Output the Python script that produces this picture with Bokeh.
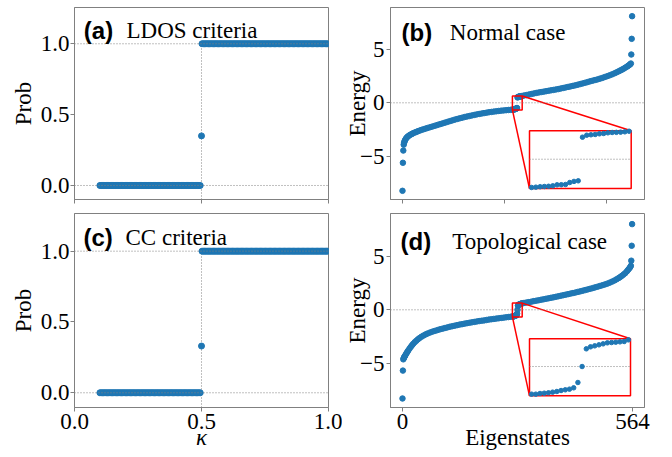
import numpy as np
from bokeh.plotting import figure
from bokeh.layouts import gridplot
from bokeh.models import Range1d, Span, Label
from bokeh.embed import file_html
from bokeh.resources import INLINE

C0 = "#1f77b4"

# ---------------- data: panels (a) and (c) ----------------
kappa_min, kappa_c, kappa_max, kappa_step = 0.10, 0.50, 1.00, 0.005
prob_levels_a = [0.0, 0.35, 1.0]   # below kappa_c, at kappa_c, above kappa_c
prob_levels_c = [0.0, 0.33, 1.0]

# ---------------- data: panels (b) and (d) ----------------
n_states = 564
eig_b_idx = [0, 1, 2, 3, 4, 5, 6, 8, 10, 12, 14, 17, 20, 23, 26, 30, 34, 38, 42, 47, 52, 57, 62,
             68, 74, 80, 86, 92, 98, 104, 110, 116, 122, 128, 134, 140, 146, 152, 158, 164, 170,
             176, 182, 188, 194, 200, 206, 212, 218, 224, 230, 236, 242, 248, 254, 260, 265,
             298, 304, 310, 316, 322, 328, 334, 340, 346, 352, 358, 364, 370, 376, 382, 388, 394,
             400, 406, 412, 418, 424, 430, 436, 442, 448, 454, 460, 466, 472, 478, 484, 490, 496,
             502, 508, 514, 520, 525, 530, 534, 538, 542, 546, 550, 553, 556, 558, 560, 561, 562, 563]
eig_b_val = [-8.20, -5.59, -4.45, -3.90, -3.72, -3.60, -3.50, -3.36, -3.26, -3.18, -3.11, -3.03,
             -2.96, -2.90, -2.84, -2.77, -2.71, -2.65, -2.59, -2.52, -2.46, -2.40, -2.34, -2.27,
             -2.20, -2.13, -2.06, -1.99, -1.92, -1.85, -1.78, -1.71, -1.64, -1.57, -1.51, -1.45,
             -1.39, -1.33, -1.28, -1.23, -1.18, -1.13, -1.08, -1.04, -1.00, -0.96, -0.92, -0.88,
             -0.85, -0.82, -0.79, -0.76, -0.73, -0.71, -0.69, -0.67, -0.655,
             0.68, 0.72, 0.77, 0.82, 0.87, 0.92, 0.96, 1.00, 1.04, 1.08, 1.12, 1.16, 1.20, 1.24,
             1.28, 1.33, 1.38, 1.43, 1.48, 1.53, 1.58, 1.63, 1.69, 1.75, 1.81, 1.87, 1.93, 2.00,
             2.06, 2.12, 2.18, 2.25, 2.32, 2.40, 2.48, 2.56, 2.65, 2.75, 2.84, 2.93, 3.01, 3.09,
             3.17, 3.27, 3.36, 3.44, 3.52, 3.58, 3.66, 4.50, 5.96, 8.07]
# zoomed region around the gap (b)
zoom_b_idx = list(range(270, 294))
zoom_b_val = [-0.637, -0.630, -0.620, -0.615, -0.610, -0.600, -0.577, -0.575, -0.570, -0.525,
              -0.500, -0.487,
              0.496, 0.541, 0.550, 0.557, 0.572, 0.580, 0.595, 0.602, 0.605, 0.610, 0.617, 0.630]

eig_d_idx = eig_b_idx
eig_d_val = [-8.27, -5.67, -4.62, -4.52, -4.44, -4.37, -4.30, -4.17, -4.04, -3.92, -3.80, -3.63,
             -3.47, -3.32, -3.18, -3.02, -2.88, -2.75, -2.63, -2.50, -2.39, -2.29, -2.20, -2.11,
             -2.03, -1.96, -1.89, -1.82, -1.76, -1.70, -1.64, -1.58, -1.53, -1.48, -1.43, -1.38,
             -1.34, -1.29, -1.25, -1.21, -1.17, -1.13, -1.09, -1.05, -1.02, -0.99, -0.95, -0.91,
             -0.88, -0.85, -0.82, -0.79, -0.76, -0.73, -0.70, -0.675, -0.650,
             0.64, 0.68, 0.72, 0.76, 0.81, 0.85, 0.89, 0.94, 0.98, 1.03, 1.07, 1.12, 1.16, 1.21,
             1.26, 1.31, 1.36, 1.41, 1.46, 1.51, 1.56, 1.61, 1.67, 1.72, 1.78, 1.84, 1.90, 1.96,
             2.02, 2.09, 2.15, 2.22, 2.29, 2.36, 2.44, 2.53, 2.63, 2.74, 2.85, 2.96, 3.06, 3.17,
             3.29, 3.42, 3.58, 3.72, 3.86, 3.96, 4.10, 4.58, 5.97, 7.99]
zoom_d_idx = list(range(270, 294))
zoom_d_val = [-0.623, -0.623, -0.608, -0.601, -0.593, -0.578, -0.563, -0.541, -0.525, -0.510,
              -0.480, -0.360, 0.000,
              0.399, 0.444, 0.466, 0.489, 0.511, 0.534, 0.541, 0.549, 0.556, 0.564, 0.601]

zoom_x_lim = (269.5, 293.5)
zoom_y_lim_b = (-0.66, 0.64)
zoom_y_lim_d = (-0.66, 0.625)

titles = [("(a)", "LDOS criteria"), ("(b)", "Normal case"),
          ("(c)", "CC criteria"), ("(d)", "Topological case")]
x_labels = ["\u03ba", "Eigenstates"]
y_labels = ["Prob", "Energy"]

# ---------------- layout (page pixels) ----------------
LEFT_F = (74, 328)
RIGHT_F = (390, 644)
ROW1_F = (7, 199)
ROW2_F = (213, 407)

XR_LEFT = (0.0, 1.0)
XR_RIGHT = (-29.4, 593.4)
YR_A = (-0.099, 1.256)
YR_B = (-9.01, 8.88)
YR_C = (-0.104, 1.266)
YR_D = (-9.11, 8.98)

GRAY = "#808080"
SERIF = "Liberation Serif"


def xd(rng, frame, px):
    return rng[0] + (px - frame[0]) / (frame[1] - frame[0]) * (rng[1] - rng[0])


def yd(rng, frame, py):
    return rng[1] - (py - frame[0]) / (frame[1] - frame[0]) * (rng[1] - rng[0])


def make_fig(w, h, xr, yr, bl, br, bt, bb):
    p = figure(width=w, height=h, x_range=Range1d(*xr), y_range=Range1d(*yr),
               output_backend="svg", toolbar_location=None,
               min_border_left=bl, min_border_right=br, min_border_top=bt, min_border_bottom=bb,
               background_fill_color="white", border_fill_color="white")
    p.outline_line_color = GRAY
    p.outline_line_width = 1
    p.xgrid.visible = False
    p.ygrid.visible = False
    for ax in (p.xaxis[0], p.yaxis[0]):
        ax.axis_line_color = GRAY
        ax.major_tick_line_color = GRAY
        ax.minor_tick_line_color = None
        ax.major_tick_in = 0
        ax.major_tick_out = 4
        ax.major_label_text_font = SERIF
        ax.major_label_text_font_size = "23px"
        ax.major_label_text_color = "black"
        ax.axis_label_text_font = SERIF
        ax.axis_label_text_font_size = "23px"
        ax.axis_label_text_font_style = "normal"
        ax.axis_label_text_color = "black"
    return p


def add_text(p, xr, yr, xf, yf, px, py, text, font=SERIF, size="23px", style="normal"):
    p.add_layout(Label(x=xd(xr, xf, px), y=yd(yr, yf, py), text=text,
                       text_font=font, text_font_style=style, text_font_size=size,
                       text_align="left", text_baseline="alphabetic", text_color="black"))


def add_titles(p, xr, yr, xf, yf, tag, name, tag_px, name_px, base_py):
    add_text(p, xr, yr, xf, yf, tag_px, base_py, tag, font="Liberation Sans", size="24px", style="bold")
    add_text(p, xr, yr, xf, yf, name_px, base_py, name)


def prob_panel(p, levels, yr):
    k_low = np.round(np.arange(kappa_min, kappa_c - 0.001, kappa_step), 4)
    k_high = np.round(np.arange(kappa_c + 0.002, kappa_max + 0.0001, kappa_step), 4)
    p.add_layout(Span(location=0, dimension="width", line_color=GRAY, line_dash="1 2", line_width=1))
    p.add_layout(Span(location=1, dimension="width", line_color=GRAY, line_dash="1 2", line_width=1))
    p.segment(x0=kappa_c, y0=yr[0], x1=kappa_c, y1=1.0, line_color=GRAY, line_dash="1 2", line_width=1)
    p.scatter(k_low, [levels[0]] * len(k_low), size=6, color=C0)
    p.scatter([kappa_c], [levels[1]], size=6, color=C0)
    p.scatter(k_high, [levels[2]] * len(k_high), size=6, color=C0)
    p.yaxis.ticker = [0, 0.5, 1]
    p.yaxis.major_label_overrides = {0: "0.0", 0.5: "0.5", 1: "1.0"}
    p.yaxis.axis_label = y_labels[0]
    p.yaxis.major_label_standoff = 1
    p.yaxis.axis_label_standoff = 2
    p.xaxis.ticker = [0, 0.5, 1]
    p.xaxis.major_label_overrides = {0: "0.0", 0.5: "0.5", 1: "1.0"}


def energy_panel(p, idx, vals, zidx, zvals, zylim, tgt_px, xr, yr, yf):
    p.add_layout(Span(location=0, dimension="width", line_color=GRAY, line_dash="1 2", line_width=1))
    p.scatter(idx + zidx, vals + zvals, size=5.5, color=C0)
    tx = (xd(xr, RIGHT_F, tgt_px[0]), xd(xr, RIGHT_F, tgt_px[1]))
    ty = (yd(yr, yf, tgt_px[3]), yd(yr, yf, tgt_px[2]))
    # small box around the gap
    p.quad(left=zoom_x_lim[0], right=zoom_x_lim[1], bottom=zylim[0], top=zylim[1],
           fill_color=None, line_color="red", line_width=1.5)
    # inset box
    p.quad(left=tx[0], right=tx[1], bottom=ty[0], top=ty[1],
           fill_color="white", line_color="red", line_width=1.5)
    p.segment(x0=[zoom_x_lim[0], zoom_x_lim[1]], y0=[zylim[0], zylim[1]],
              x1=[tx[0], tx[1]], y1=[ty[0], ty[1]], line_color="red", line_width=1.5)
    sub = p.subplot(x_source=Range1d(*zoom_x_lim), y_source=Range1d(*zylim),
                    x_target=Range1d(*tx), y_target=Range1d(*ty))
    sub.segment(x0=zoom_x_lim[0], y0=0, x1=zoom_x_lim[1], y1=0,
                line_color=GRAY, line_dash="1 2", line_width=1)
    sub.scatter(zidx, zvals, size=4.5, color=C0)
    p.yaxis.ticker = [-5, 0, 5]
    p.yaxis.major_label_overrides = {-5: "\u22125", 0: "0", 5: "5"}
    p.yaxis.axis_label = y_labels[1]
    p.yaxis.major_label_standoff = 2
    p.yaxis.axis_label_standoff = -13


R1 = 14
L2 = 390 - (74 + 254 + R1)
LW, RW = 74 + 254 + R1, L2 + 254 + 24
H1, H2 = 7 + 192 + 13, 1 + 194 + 49

pa = make_fig(LW, H1, XR_LEFT, YR_A, 74, R1, 7, 13)
pb = make_fig(RW, H1, XR_RIGHT, YR_B, L2, 24, 7, 13)
pc = make_fig(LW, H2, XR_LEFT, YR_C, 74, R1, 1, 49)
pd = make_fig(RW, H2, XR_RIGHT, YR_D, L2, 24, 1, 49)

prob_panel(pa, prob_levels_a, YR_A)
prob_panel(pc, prob_levels_c, YR_C)
energy_panel(pb, eig_b_idx, eig_b_val, zoom_b_idx, zoom_b_val, zoom_y_lim_b,
             (529, 630.7, 130.3, 188), XR_RIGHT, YR_B, ROW1_F)
energy_panel(pd, eig_d_idx, eig_d_val, zoom_d_idx, zoom_d_val, zoom_y_lim_d,
             (529, 630, 338.3, 395.3), XR_RIGHT, YR_D, ROW2_F)

# x axes: top row has ticks but no tick labels
for p in (pa, pb):
    p.xaxis.major_label_text_color = None
    p.xaxis.major_label_standoff = -26
pb.xaxis.ticker = [0, 250, 500]
pd.xaxis.ticker = [0, n_states]
for p in (pc, pd):
    p.xaxis.major_label_standoff = 2
    p.xaxis.axis_label_standoff = -7
pc.xaxis.axis_label = x_labels[0]
pc.xaxis.axis_label_text_font_style = "italic"
pd.xaxis.axis_label = x_labels[1]

add_titles(pa, XR_LEFT, YR_A, LEFT_F, ROW1_F, titles[0][0], titles[0][1], 83.3, 126, 30)
add_titles(pb, XR_RIGHT, YR_B, RIGHT_F, ROW1_F, titles[1][0], titles[1][1], 401, 449.3, 32)
add_titles(pc, XR_LEFT, YR_C, LEFT_F, ROW2_F, titles[2][0], titles[2][1], 83, 125, 236.7)
add_titles(pd, XR_RIGHT, YR_D, RIGHT_F, ROW2_F, titles[3][0], titles[3][1], 400, 451.7, 241)

grid = gridplot([[pa, pb], [pc, pd]], toolbar_location=None)

open("out.html", "w").write(file_html(grid, INLINE))
